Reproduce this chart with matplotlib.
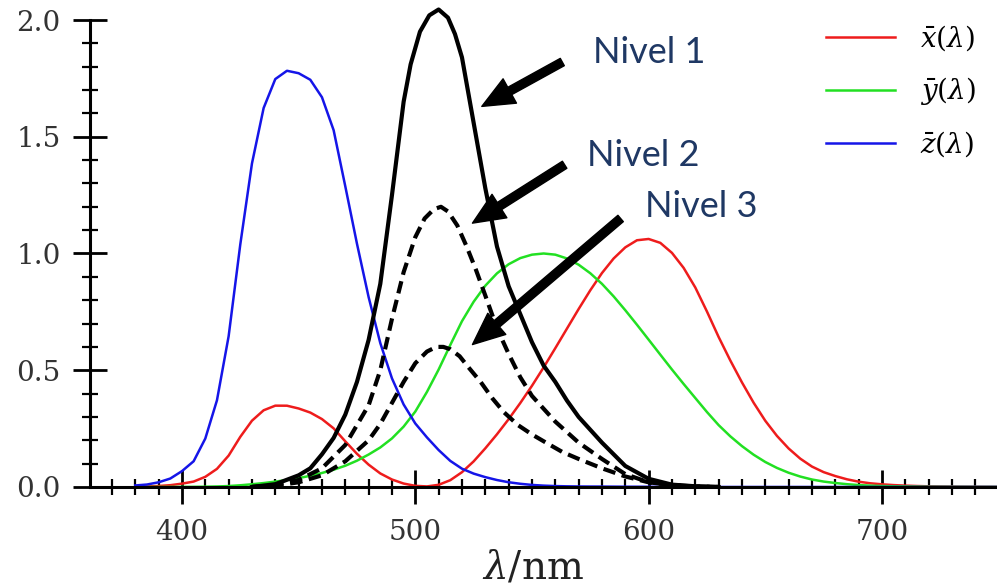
import matplotlib
matplotlib.use("Agg")
import matplotlib.pyplot as plt
from matplotlib.ticker import MultipleLocator

plt.rcParams['font.family'] = ['DejaVu Serif']
plt.rcParams['mathtext.fontset'] = 'dejavuserif'

# CIE 1931 colour matching functions, 5 nm steps
lam = [380, 385, 390, 395, 400, 405, 410, 415, 420, 425, 430, 435, 440, 445,
       450, 455, 460, 465, 470, 475, 480, 485, 490, 495, 500, 505, 510, 515,
       520, 525, 530, 535, 540, 545, 550, 555, 560, 565, 570, 575, 580, 585,
       590, 595, 600, 605, 610, 615, 620, 625, 630, 635, 640, 645, 650, 655,
       660, 665, 670, 675, 680, 685, 690, 695, 700, 705, 710, 715, 720, 725,
       730, 735, 740, 745, 750]
xbar = [0.0014, 0.0022, 0.0042, 0.0077, 0.0143, 0.0232, 0.0435, 0.0776, 0.1344,
        0.2148, 0.2839, 0.3285, 0.3483, 0.3481, 0.3362, 0.3187, 0.2908, 0.2511,
        0.1954, 0.1421, 0.0956, 0.0580, 0.0320, 0.0147, 0.0049, 0.0024, 0.0093,
        0.0291, 0.0633, 0.1096, 0.1655, 0.2257, 0.2904, 0.3597, 0.4334, 0.5121,
        0.5945, 0.6784, 0.7621, 0.8425, 0.9163, 0.9786, 1.0263, 1.0567, 1.0622,
        1.0456, 1.0026, 0.9384, 0.8544, 0.7514, 0.6424, 0.5419, 0.4479, 0.3608,
        0.2835, 0.2187, 0.1649, 0.1212, 0.0874, 0.0636, 0.0468, 0.0329, 0.0227,
        0.0158, 0.0114, 0.0081, 0.0058, 0.0041, 0.0029, 0.0020, 0.0014, 0.0010,
        0.0007, 0.0005, 0.0003]
ybar = [0.0000, 0.0001, 0.0001, 0.0002, 0.0004, 0.0006, 0.0012, 0.0022, 0.0040,
        0.0073, 0.0116, 0.0168, 0.0230, 0.0298, 0.0380, 0.0480, 0.0600, 0.0739,
        0.0910, 0.1126, 0.1390, 0.1693, 0.2080, 0.2586, 0.3230, 0.4073, 0.5030,
        0.6082, 0.7100, 0.7932, 0.8620, 0.9149, 0.9540, 0.9803, 0.9950, 1.0000,
        0.9950, 0.9786, 0.9520, 0.9154, 0.8700, 0.8163, 0.7570, 0.6949, 0.6310,
        0.5668, 0.5030, 0.4412, 0.3810, 0.3210, 0.2650, 0.2170, 0.1750, 0.1382,
        0.1070, 0.0816, 0.0610, 0.0446, 0.0320, 0.0232, 0.0170, 0.0119, 0.0082,
        0.0057, 0.0041, 0.0029, 0.0021, 0.0015, 0.0010, 0.0007, 0.0005, 0.0004,
        0.0002, 0.0002, 0.0001]
zbar = [0.0065, 0.0105, 0.0201, 0.0362, 0.0679, 0.1102, 0.2074, 0.3713, 0.6456,
        1.0391, 1.3856, 1.6230, 1.7471, 1.7826, 1.7721, 1.7441, 1.6692, 1.5281,
        1.2876, 1.0419, 0.8130, 0.6162, 0.4652, 0.3533, 0.2720, 0.2123, 0.1582,
        0.1117, 0.0783, 0.0573, 0.0422, 0.0298, 0.0203, 0.0137, 0.0088, 0.0058,
        0.0039, 0.0028, 0.0021, 0.0018, 0.0017, 0.0014, 0.0011, 0.0010, 0.0008,
        0.0006, 0.0003, 0.0002, 0.0002, 0.0001, 0.0000, 0.0000, 0.0000, 0.0000,
        0.0000, 0.0000, 0.0000, 0.0000, 0.0000, 0.0000, 0.0000, 0.0000, 0.0000,
        0.0000, 0.0000, 0.0000, 0.0000, 0.0000, 0.0000, 0.0000, 0.0000, 0.0000,
        0.0000, 0.0000, 0.0000]

# black curves
lam_n1 = [430, 440, 450, 455, 460, 465, 470, 475, 480, 485, 490, 495, 498, 502,
          506, 510, 514, 517, 520, 525, 530, 535, 540, 545, 550, 555, 560, 565,
          570, 580, 590, 600, 610, 620, 630]
nivel1 = [0.0, 0.012, 0.05, 0.08, 0.14, 0.21, 0.31, 0.45, 0.63, 0.87, 1.25, 1.65,
          1.81, 1.95, 2.02, 2.045, 2.01, 1.94, 1.84, 1.56, 1.28, 1.03, 0.86, 0.74,
          0.62, 0.52, 0.45, 0.37, 0.30, 0.19, 0.09, 0.035, 0.01, 0.003, 0.0]
lam_n2 = [430, 440, 450, 460, 470, 480, 485, 490, 495, 500, 504, 508, 511, 514,
          518, 522, 526, 530, 535, 540, 545, 550, 560, 570, 580, 590, 600, 610,
          620, 630]
nivel2 = [0.0, 0.008, 0.03, 0.08, 0.18, 0.35, 0.50, 0.72, 0.92, 1.07, 1.15, 1.19,
          1.20, 1.18, 1.12, 1.03, 0.93, 0.82, 0.68, 0.57, 0.47, 0.39, 0.28, 0.19,
          0.12, 0.055, 0.02, 0.008, 0.002, 0.0]
lam_n3 = [430, 440, 450, 460, 470, 480, 485, 490, 495, 500, 505, 509, 512, 515,
          519, 523, 528, 533, 538, 544, 550, 556, 563, 570, 580, 590, 600, 610,
          620, 630]
nivel3 = [0.0, 0.006, 0.02, 0.05, 0.11, 0.20, 0.27, 0.36, 0.45, 0.53, 0.58, 0.60,
          0.60, 0.59, 0.56, 0.51, 0.45, 0.38, 0.32, 0.265, 0.225, 0.19, 0.15, 0.12,
          0.08, 0.045, 0.02, 0.008, 0.002, 0.0]

niveles = ["Nivel 1", "Nivel 2", "Nivel 3"]
text_pos = [(576, 1.86), (573.5, 1.42), (598.5, 1.20)]
arrow_tail = [(563, 1.82), (564, 1.38), (588, 1.15)]
arrow_tip = [(528.5, 1.63), (524.5, 1.13), (524.5, 0.61)]

fig = plt.figure(figsize=(9.97, 5.88), dpi=100)
ax = fig.add_axes([0.0903, 0.1718, 0.9097, 0.8282])

ax.plot(lam, xbar, color='#ee1c1c', lw=1.8, label=r'$\bar{x}(\lambda)$')
ax.plot(lam, ybar, color='#22e022', lw=1.8, label=r'$\bar{y}(\lambda)$')
ax.plot(lam, zbar, color='#1515e8', lw=1.8, label=r'$\bar{z}(\lambda)$')

ax.plot(lam_n1, nivel1, color='black', lw=3.0, zorder=4)
ax.plot(lam_n2, nivel2, color='black', lw=3.0, ls=(0, (3, 1.6)), zorder=4)
ax.plot(lam_n3, nivel3, color='black', lw=3.0, ls=(0, (3, 1.6)), zorder=4)

for t, p, a, b in zip(niveles, text_pos, arrow_tail, arrow_tip):
    ax.text(p[0], p[1], t, fontsize=26, color='#1f3864', family='Lato',
            va='center', ha='left')
    ax.annotate('', xy=b, xytext=a,
                arrowprops=dict(facecolor='black', edgecolor='black', width=6,
                                headwidth=20, headlength=23, shrink=0),
                zorder=6)

ax.set_xlim(360.6, 749.3)
ax.set_ylim(0, 2.0857)
ax.spines['top'].set_visible(False)
ax.spines['right'].set_visible(False)
ax.spines['left'].set_linewidth(2.2)
ax.spines['bottom'].set_linewidth(2.2)
ax.spines['left'].set_bounds(0, 2.0)

ax.xaxis.set_minor_locator(MultipleLocator(10))
ax.yaxis.set_minor_locator(MultipleLocator(0.1))
ax.set_yticks([0, 0.5, 1.0, 1.5, 2.0])
ax.set_yticklabels(['0.0', '0.5', '1.0', '1.5', '2.0'])
ax.set_xticks([400, 500, 600, 700])
ax.tick_params(which='major', direction='inout', length=24, width=2.0,
               labelsize=20, labelcolor='#333333')
ax.tick_params(axis='y', which='major', pad=9)
ax.tick_params(axis='x', which='major', pad=11)
ax.tick_params(which='minor', direction='inout', length=11, width=1.6)
ax.set_xlabel(r'$\lambda$/nm', fontsize=28, color='#222222')
ax.xaxis.set_label_coords(0.488, -0.128)

fig.legend(loc='upper left', bbox_to_anchor=(0.8285, 0.96), frameon=False,
           fontsize=20, handlelength=2.5, handletextpad=0.9, labelspacing=0.8,
           borderpad=0, borderaxespad=0)

fig.savefig('out.png', dpi=100)
